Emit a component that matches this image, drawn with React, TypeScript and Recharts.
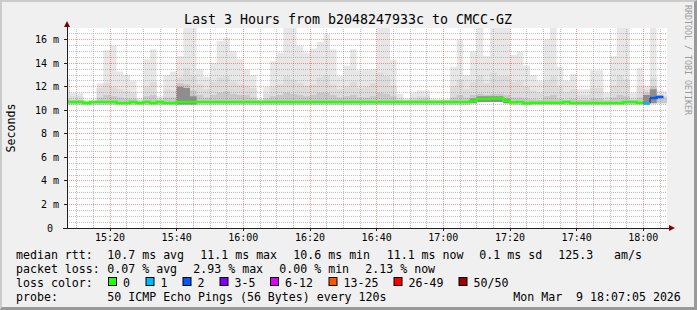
import React from 'react';
import { ComposedChart, Area, Line, XAxis, YAxis, CartesianGrid, ReferenceLine } from 'recharts';

const FONT = '"DejaVu Sans Mono", monospace';

// time axis: one step every 2 minutes starting at 15:06 (minutes since midnight)
const startMinute = 906;
const stepMinutes = 2;

// smoke: lowest ping, levels of shading, highest ping (ms)
const smokeLow = [
  10.5, 10.5, 10.5, 10.5, 10.5, 10.5, 10.5, 10.5, 10.5, 10.5,
  10.5, 10.5, 10.5, 10.5, 10.5, 10.5, 10.5, 10.5, 10.5, 10.5,
  10.5, 10.5, 10.5, 10.5, 10.5, 10.5, 10.5, 10.5, 10.5, 10.5,
  10.5, 10.5, 10.5, 10.5, 10.5, 10.5, 10.5, 10.5, 10.5, 10.5,
  10.5, 10.5, 10.5, 10.5, 10.5, 10.5, 10.5, 10.5, 10.5, 10.5,
  10.5, 10.5, 10.5, 10.5, 10.5, 10.5, 10.5, 10.5, 10.5, 10.5,
  10.5, 10.6, 10.7, 10.7, 10.7, 10.7, 10.6, 10.5, 10.5, 10.5,
  10.5, 10.5, 10.5, 10.5, 10.5, 10.5, 10.5, 10.5, 10.5, 10.5,
  10.5, 10.5, 10.5, 10.5, 10.5, 10.5, 10.5, 10.5, 10.6, 10.6,
  10.6,
];
const smokeHigh = [
  12.7, 11.5, 11.5, 10.9, 10.9, 12.3, 15.1, 15.5, 13.3, 13.0,
  12.5, 11.0, 14.35, 15.2, 11.2, 13.0, 13.3, 14.6, 17.2, 17.2,
  13.5, 12.85, 14.0, 15.9, 16.2, 15.06, 14.35, 13.5, 13.0, 11.0,
  12.0, 14.2, 14.9, 17.2, 17.2, 15.5, 14.9, 15.25, 15.8, 16.5,
  15.2, 12.9, 13.8, 15.2, 13.4, 13.5, 13.5, 17.2, 17.2, 14.3,
  11.4, 11.0, 11.5, 11.7, 11.7, 11.0, 10.95, 10.95, 13.7, 16.0,
  13.0, 15.0, 17.2, 14.6, 17.2, 17.2, 17.2, 14.7, 15.0, 13.8,
  13.0, 12.5, 16.0, 17.2, 13.7, 12.5, 13.1, 11.8, 11.8, 13.4,
  13.4, 11.5, 14.6, 17.2, 17.2, 11.5, 13.6, 12.1, 17.2, 11.7,
  11.6,
];
const smokeMid = [
  11.6, 11.2, 11.2, 10.8, 10.8, 11.9, 12.3, 12.0, 11.8, 11.6,
  11.5, 10.9, 12.0, 12.4, 11.0, 11.8, 11.7, 12.8, 13.6, 13.0,
  12.2, 11.8, 12.4, 12.8, 12.9, 12.4, 12.2, 12.1, 11.9, 10.9,
  11.4, 12.0, 12.2, 12.9, 12.6, 12.3, 12.1, 12.2, 12.8, 13.0,
  12.2, 11.8, 12.0, 12.4, 11.9, 12.0, 12.3, 13.2, 12.9, 12.1,
  11.1, 10.9, 11.1, 11.2, 11.2, 10.9, 10.9, 10.9, 12.0, 12.6,
  11.8, 12.4, 13.0, 12.3, 13.2, 12.9, 12.9, 12.4, 12.5, 12.0,
  11.7, 11.5, 12.5, 12.9, 12.0, 11.5, 11.8, 11.3, 11.3, 11.9,
  11.9, 11.1, 12.1, 13.0, 12.6, 11.1, 12.0, 11.8, 12.8, 11.4,
  11.2,
];
const smokeDark = [
  11.0, 10.9, 10.9, 10.75, 10.75, 11.1, 11.3, 11.2, 11.1, 11.0,
  11.0, 10.8, 11.2, 11.3, 10.9, 11.1, 11.1, 12.3, 12.2, 11.7,
  11.3, 11.1, 11.3, 11.5, 11.6, 11.4, 11.3, 11.3, 11.1, 10.85,
  11.0, 11.2, 11.3, 11.5, 11.4, 11.3, 11.2, 11.3, 11.5, 11.5,
  11.3, 11.1, 11.2, 11.3, 11.1, 11.1, 11.2, 11.5, 11.4, 11.2,
  10.9, 10.85, 10.9, 11.0, 11.0, 10.85, 10.85, 10.85, 11.1, 11.3,
  11.1, 11.3, 11.4, 11.3, 11.4, 11.4, 11.3, 11.1, 11.1, 11.0,
  10.95, 10.9, 11.2, 11.3, 11.0, 10.9, 11.0, 10.9, 10.9, 11.0,
  11.0, 10.85, 11.1, 11.3, 11.2, 10.9, 11.1, 11.5, 12.0, 11.3,
  11.1,
];
const smokeCore = [
  null, null, null, null, null, null, null, null, null, null,
  null, null, null, null, null, null, null, 12.0, 11.9, 11.2,
  null, null, null, null, null, null, null, null, null, null,
  null, null, null, null, null, null, null, null, null, null,
  null, null, null, null, null, null, null, null, null, null,
  null, null, null, null, null, null, null, null, null, null,
  null, 11.0, 11.2, 11.2, 11.2, 11.2, 11.0, null, null, null,
  null, null, null, null, null, null, null, null, null, null,
  null, null, null, null, null, null, null, 11.3, 11.8, null,
  null,
];

// median round trip time (ms) and lost pings per step
const medianRtt = [
  10.7, 10.7, 10.7, 10.63, 10.7, 10.7, 10.7, 10.7, 10.63, 10.63,
  10.7, 10.63, 10.7, 10.63, 10.7, 10.63, 10.63, 10.72, 10.72, 10.72,
  10.72, 10.72, 10.72, 10.72, 10.72, 10.72, 10.72, 10.72, 10.72, 10.72,
  10.72, 10.72, 10.72, 10.72, 10.72, 10.72, 10.72, 10.72, 10.72, 10.72,
  10.72, 10.72, 10.72, 10.72, 10.72, 10.72, 10.72, 10.72, 10.72, 10.72,
  10.7, 10.7, 10.7, 10.7, 10.7, 10.7, 10.7, 10.7, 10.72, 10.72,
  10.72, 10.8, 10.96, 10.96, 11.0, 11.0, 10.82, 10.68, 10.7, 10.6,
  10.65, 10.65, 10.65, 10.65, 10.65, 10.7, 10.62, 10.62, 10.62, 10.62,
  10.62, 10.62, 10.62, 10.62, 10.7, 10.7, 10.65, 10.6, 11.04, 11.13,
  null,
];
const lossCount = [
  0, 0, 0, 0, 0, 0, 0, 0, 0, 0,
  0, 0, 0, 0, 0, 0, 0, 0, 0, 0,
  0, 0, 0, 0, 0, 0, 0, 0, 0, 0,
  0, 0, 0, 0, 0, 0, 0, 0, 0, 0,
  0, 0, 0, 0, 0, 0, 0, 0, 0, 0,
  0, 0, 0, 0, 0, 0, 0, 0, 0, 0,
  0, 0, 0, 0, 0, 0, 0, 0, 0, 0,
  0, 0, 0, 0, 0, 0, 0, 0, 0, 0,
  0, 0, 0, 0, 0, 0, 0, 1, 2, 2,
  null,
];

const lossLineColors = ['#26ff00', '#00b8ff', '#0059ff'];
const lossLegendLabels = ['0', '1', '2', '3-5', '6-12', '13-25', '26-49', '50/50'];
const lossLegendColors = ['#26ff00', '#00b8ff', '#0059ff', '#7e00ff', '#dd00ff', '#ff5500', '#ff0000', '#a10000'];
const lossLegendX = [108, 145.5, 182.5, 219.5, 270, 328.5, 393.5, 458.5];

const xTicks = [920, 940, 960, 980, 1000, 1020, 1040, 1060, 1080];
const yTicks = [0, 2, 4, 6, 8, 10, 12, 14, 16];
const xDomain = [907.1, 1087.1];
const yDomain = [0, 17];

const titleText = 'Last 3 Hours from b2048247933c to CMCC-GZ';
const rttStats = ['10.7 ms avg', '11.1 ms max', '10.6 ms min', '11.1 ms now', '0.1 ms sd', '125.3', 'am/s'];
const rttStatsX = [107.3, 200.3, 293.3, 386.7, 479.3, 558.3, 614];
const lossStats = ['0.07 % avg', '2.93 % max', '0.00 % min', '2.13 % now'];
const lossStatsX = [107.3, 193.3, 279.3, 365.3];
const probeText = '50 ICMP Echo Pings (56 Bytes) every 120s';
const dateText = 'Mon Mar  9 18:07:05 2026';

// grid positions (minor every 0.5 ms / 5 min)
const minorY = Array.from({ length: 34 }, (_, k) => k * 0.5).filter((v) => v > 0 && v % 2 !== 0);
const majorY = yTicks.filter((v) => v > 0);
const minorX = Array.from({ length: 36 }, (_, k) => 910 + k * 5).filter((v) => v < 1087 && v % 20 !== 0);

const times = smokeHigh.map((_, i) => startMinute + i * stepMinutes);
const n = times.length;

function closed(arr: (number | null)[], i: number): number | null {
  const cur = i < arr.length ? arr[i] : null;
  if (cur != null) return cur;
  const prev = i > 0 ? arr[i - 1] : null;
  return prev != null ? prev : null;
}

const rows: any[] = [];
for (let i = 0; i <= n; i++) {
  const t = i < n ? times[i] : times[n - 1] + stepMinutes;
  const lo = closed(smokeLow, i);
  const hi = closed(smokeHigh, i);
  const mid = closed(smokeMid, i);
  const dk = closed(smokeDark, i);
  const core = closed(smokeCore, i);
  const row: any = {
    t,
    light: hi == null ? null : [lo, hi],
    mid: mid == null ? null : [lo, mid],
    dark: dk == null ? null : [lo, dk],
    core: core == null ? null : [lo, core],
    median: closed(medianRtt, i),
  };
  lossLineColors.forEach((_, c) => {
    const perColor = medianRtt.map((m, k) => (lossCount[k] === c ? m : null));
    row['m' + c] = closed(perColor, i);
  });
  rows.push(row);
}

const fmtTime = (m: number) => `${Math.floor(m / 60)}:${String(m % 60).padStart(2, '0')}`;

const YTick = (props: any) => {
  const { x, y, payload } = props;
  const v = payload.value;
  return (
    <text x={v === 0 ? x - 6 : x} y={y} dy="0.355em" textAnchor="end" fontSize={10} fontFamily={FONT} fill="#000">
      {v === 0 ? '0' : `${v} m`}
    </text>
  );
};

const txt = { fontFamily: FONT, fontSize: 11.6, fill: '#000', whiteSpace: 'pre' as const };

export default function App() {
  return (
    <div style={{ position: 'absolute', left: 0, top: 0, width: 697, height: 310, background: '#f0f0f0', overflow: 'hidden' }}>
      <div
        style={{
          position: 'absolute', left: 0, top: 0, width: 697, height: 310, boxSizing: 'border-box',
          borderTop: '2px solid #cbcbcb', borderLeft: '2px solid #cbcbcb',
          borderRight: '3px solid #999999', borderBottom: '3px solid #999999',
        }}
      />
      <div style={{ position: 'absolute', left: 0, top: 0 }}>
        <ComposedChart width={697} height={310} data={rows} margin={{ top: 28, right: 30, bottom: 52, left: 7 }}>
          <CartesianGrid fill="#ffffff" stroke="none" horizontal={false} vertical={false} />
          <XAxis
            dataKey="t" type="number" domain={xDomain} allowDataOverflow ticks={xTicks} interval={0}
            tickFormatter={fmtTime} height={30} tickSize={3} tickMargin={3}
            tick={{ fontSize: 10, fontFamily: FONT, fill: '#000' }}
            axisLine={{ stroke: '#202020', shapeRendering: 'crispEdges' }}
            tickLine={{ stroke: '#202020', shapeRendering: 'crispEdges' }}
          />
          <YAxis
            type="number" domain={yDomain} allowDataOverflow ticks={yTicks} interval={0} width={60}
            tickSize={3} tickMargin={5} tick={<YTick />}
            axisLine={{ stroke: '#202020', shapeRendering: 'crispEdges' }}
            tickLine={{ stroke: '#202020', shapeRendering: 'crispEdges' }}
          />
          <Area dataKey="light" type="stepAfter" stroke="none" fill="#e7e7e7" fillOpacity={1} isAnimationActive={false} dot={false} activeDot={false} />
          <Area dataKey="mid" type="stepAfter" stroke="none" fill="#dcdcdc" fillOpacity={1} isAnimationActive={false} dot={false} activeDot={false} />
          <Area dataKey="dark" type="stepAfter" stroke="none" fill="#c8c8c8" fillOpacity={1} isAnimationActive={false} dot={false} activeDot={false} />
          <Area dataKey="core" type="stepAfter" stroke="none" fill="#8e8e8e" fillOpacity={1} isAnimationActive={false} dot={false} activeDot={false} />
          {minorY.map((v) => (
            <ReferenceLine key={'my' + v} y={v} stroke="#8c8c8c" strokeOpacity={0.55} strokeDasharray="1 1" shapeRendering="crispEdges" />
          ))}
          {minorX.map((v) => (
            <ReferenceLine key={'mx' + v} x={v} stroke="#8c8c8c" strokeOpacity={0.55} strokeDasharray="1 1" shapeRendering="crispEdges" />
          ))}
          {majorY.map((v) => (
            <ReferenceLine key={'My' + v} y={v} stroke="#ff0000" strokeOpacity={0.4} strokeDasharray="1 1" shapeRendering="crispEdges" />
          ))}
          {xTicks.map((v) => (
            <ReferenceLine key={'Mx' + v} x={v} stroke="#ff0000" strokeOpacity={0.4} strokeDasharray="1 1" shapeRendering="crispEdges" />
          ))}
          <Line dataKey="median" type="stepAfter" stroke="#202020" strokeWidth={1} dot={false} activeDot={false} isAnimationActive={false} />
          {lossLineColors.map((c, k) => (
            <Line key={c} dataKey={'m' + k} type="stepAfter" stroke={c} strokeWidth={2.5} dot={false} activeDot={false} isAnimationActive={false} />
          ))}
        </ComposedChart>
      </div>
      <svg width={697} height={310} style={{ position: 'absolute', left: 0, top: 0, pointerEvents: 'none' }}>
        <text x={348} y={24} textAnchor="middle" fontFamily={FONT} fontSize={13.3} fill="#000">{titleText}</text>
        <text transform="translate(15,128) rotate(-90)" textAnchor="middle" fontFamily={FONT} fontSize={11.6} fill="#000">Seconds</text>
        <text transform="translate(684.5,5) rotate(90)" textAnchor="start" fontFamily={FONT} fontSize={8.3} fill="#9a9a9a">RRDTOOL / TOBI OETIKER</text>
        <line x1={67} y1={28} x2={67} y2={23} stroke="#202020" shapeRendering="crispEdges" />
        <polygon points="64,27 70,27 67,21" fill="#7f0000" />
        <line x1={63} y1={228} x2={67} y2={228} stroke="#202020" shapeRendering="crispEdges" />
        <line x1={667} y1={228} x2={670} y2={228} stroke="#202020" shapeRendering="crispEdges" />
        <polygon points="669,225 669,231 675,228" fill="#7f0000" />

        <text x={16} y={258.5} style={txt}>median rtt:</text>
        {rttStats.map((s, k) => (
          <text key={s + k} x={rttStatsX[k]} y={258.5} style={txt}>{s}</text>
        ))}
        <text x={16} y={272.5} style={txt}>packet loss:</text>
        {lossStats.map((s, k) => (
          <text key={s + k} x={lossStatsX[k]} y={272.5} style={txt}>{s}</text>
        ))}
        <text x={16} y={286.5} style={txt}>loss color:</text>
        {lossLegendLabels.map((s, k) => (
          <g key={s}>
            <rect x={lossLegendX[k] + 0.5} y={277.5} width={8} height={8} fill={lossLegendColors[k]} stroke="#000" strokeWidth={1} />
            <text x={lossLegendX[k] + 15} y={286.5} style={txt}>{s}</text>
          </g>
        ))}
        <text x={16} y={300.5} style={txt}>probe:</text>
        <text x={107.3} y={300.5} style={txt}>{probeText}</text>
        <text x={513.3} y={300.5} style={txt}>{dateText}</text>
      </svg>
    </div>
  );
}
